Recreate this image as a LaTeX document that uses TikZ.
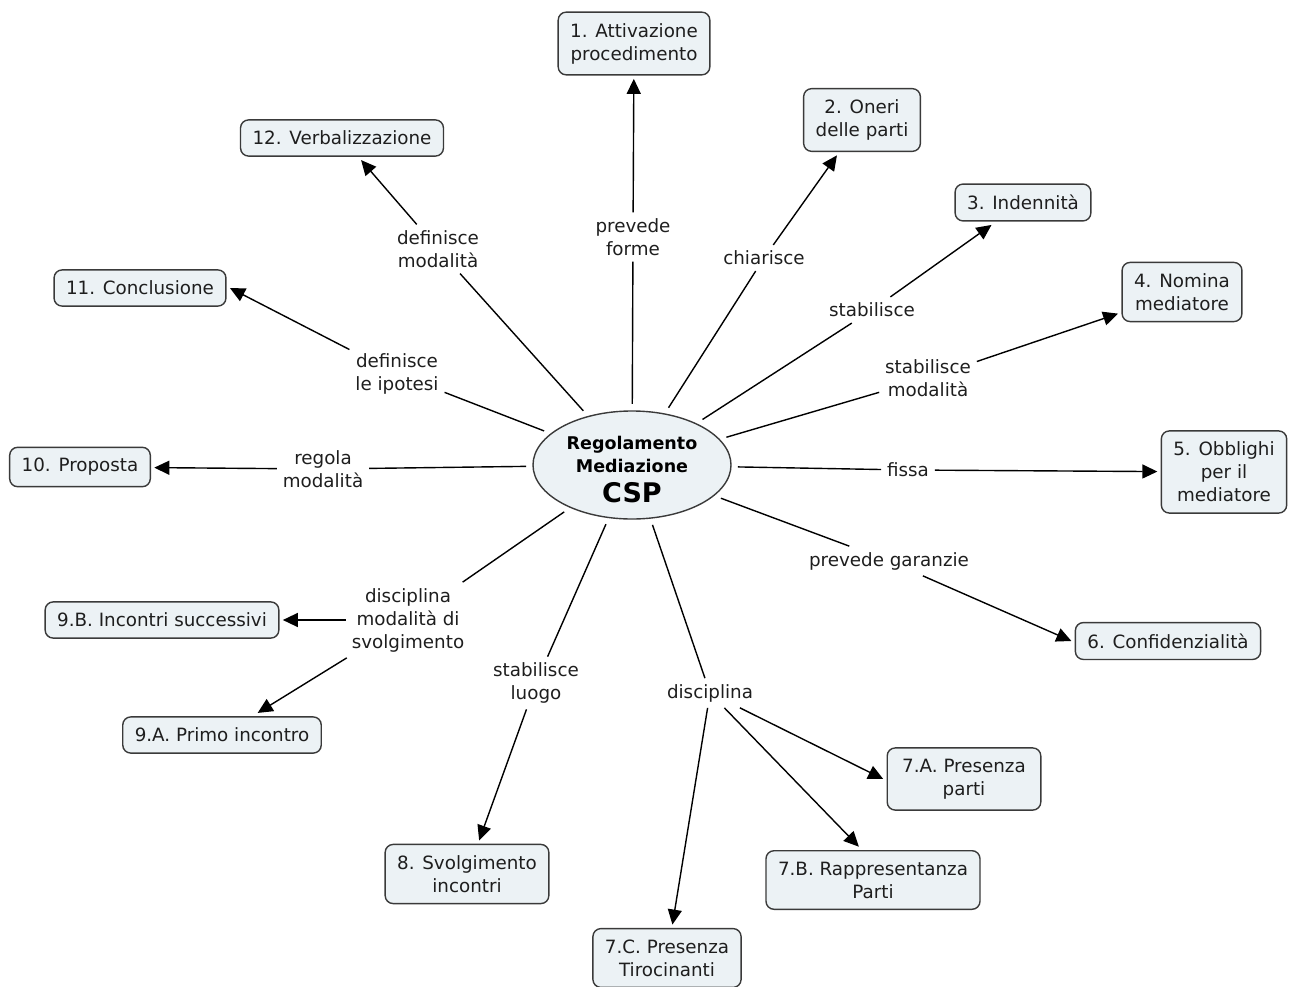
\documentclass[tikz,border=0pt]{standalone}
\usepackage{fontspec}
\setmainfont{DejaVu Sans}
\usetikzlibrary{arrows.meta,shapes.geometric}
\definecolor{boxfill}{HTML}{ECF2F5}
\definecolor{boxline}{HTML}{3A3A3A}
\definecolor{txt}{HTML}{1E1E1E}
\tikzset{
  concept/.style={draw=boxline, line width=1.4pt, fill=boxfill, rounded corners=8pt,
    align=center, inner xsep=12pt, inner ysep=11pt, outer sep=4pt, text=txt,
    font=\fontsize{18.3}{23}\selectfont},
  lab/.style={align=center, inner sep=3pt, outer sep=3pt, text=txt,
    font=\fontsize{18.3}{23}\selectfont},
  link/.style={line width=1.4pt, draw=black},
  arr/.style={link, -{Triangle[length=15pt,width=14pt]}},
}
\begin{document}
\begin{tikzpicture}[x=1pt,y=-1pt]
\useasboundingbox (0,0) rectangle (1292,987);
% centre
\node[ellipse, draw=boxline, line width=1.4pt, fill=boxfill, minimum width=198pt,
  minimum height=105pt, outer sep=7pt, align=center, inner sep=0pt, text=black,
  font=\fontsize{17.5}{23}\selectfont\bfseries]
  (C) at (632,465) {\rule{0pt}{23pt}Regolamento\\Mediazione\\[7pt]{\fontsize{27}{30}\selectfont CSP}};
% concepts
\node[concept] (N1) at (634,43.5) {1. Attivazione\\procedimento};
\node[concept] (N2) at (862,120) {2. Oneri\\delle parti};
\node[concept] (N3) at (1023,202.5) {3. Indennità};
\node[concept] (N4) at (1182,292) {4. Nomina\\mediatore};
\node[concept] (N5) at (1224,472) {5. Obblighi\\per il\\mediatore};
\node[concept] (N6) at (1168,641) {6. Confidenzialità};
\node[concept, inner xsep=15pt] (N7A) at (964,779) {7.A. Presenza\\parti};
\node[concept] (N7B) at (873,880) {7.B. Rappresentanza\\Parti};
\node[concept] (N7C) at (667,958) {7.C. Presenza\\Tirocinanti};
\node[concept] (N8) at (467,874) {8. Svolgimento\\incontri};
\node[concept] (N9A) at (222,735) {9.A. Primo incontro};
\node[concept] (N9B) at (162,620) {9.B. Incontri successivi};
\node[concept] (N10) at (80,467) {10. Proposta};
\node[concept] (N11) at (140,288) {11. Conclusione};
\node[concept] (N12) at (342,138) {12. Verbalizzazione};
% labels
\node[lab] (L1) at (633,237) {prevede\\forme};
\node[lab] (L2) at (764,258) {chiarisce};
\node[lab] (L3) at (872,310) {stabilisce};
\node[lab] (L4) at (928,378) {stabilisce\\modalità};
\node[lab] (L5) at (908,470) {fissa};
\node[lab] (L6) at (889,561) {prevede garanzie};
\node[lab] (L7) at (710,693) {disciplina};
\node[lab] (L8) at (536,683) {stabilisce\\luogo};
\node[lab] (L9) at (408,620) {disciplina\\modalità di\\svolgimento};
\node[lab] (L10) at (323,469) {regola\\modalità};
\node[lab] (L11) at (397,374) {definisce\\le ipotesi};
\node[lab] (L12) at (438,249) {definisce\\modalità};
% connectors
\foreach \i in {1,2,3,4,5,6,7,8,9,10,11,12} {\draw[link] (C) -- (L\i);}
\draw[arr] (L1) -- (N1);
\draw[arr] (L2) -- (N2);
\draw[arr] (L3) -- (N3);
\draw[arr] (L4) -- (N4);
\draw[arr] (L5) -- (N5);
\draw[arr] (L6) -- (N6.west);
\draw[arr] (L7) -- (N7A.west);
\draw[arr] (L7) -- (N7B.113);
\draw[arr] (L7) -- (N7C);
\draw[arr] (L8) -- (N8);
\draw[arr] (L9) -- (N9A);
\draw[arr] (L9) -- (N9B);
\draw[arr] (L10) -- (N10);
\draw[arr] (L11) -- (N11.east);
\draw[arr] (L12) -- (N12);
\end{tikzpicture}
\end{document}
